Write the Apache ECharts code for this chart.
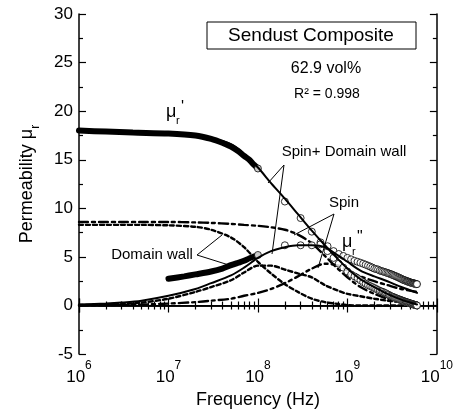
<!DOCTYPE html>
<html>
<head>
<meta charset="utf-8">
<script src="https://cdn.jsdelivr.net/npm/echarts@6/dist/echarts.min.js"></script>
<style>html,body{margin:0;padding:0;background:#fff}#main{width:456px;height:414px}</style>
</head>
<body>
<div id="main"></div>
<script>
// frequencies in MHz
var fitFreq = [1,2,3,5,10,20,30,50,70,100,140,200,280,400,560,800,1000,1400,2000,2800,4000,6000];
var mu1Fit  = [18.0,17.95,17.9,17.85,17.75,17.5,17.2,16.6,15.6,14.2,12.6,11.0,9.4,7.7,6.2,4.7,3.8,2.7,1.9,1.2,0.6,0.1];
var mu2Fit  = [0.1,0.2,0.3,0.5,1.0,1.7,2.3,3.1,3.9,4.9,5.6,6.0,6.2,6.2,6.0,5.1,4.5,3.6,3.0,2.5,1.9,1.3];
var dwReal  = [8.3,8.3,8.3,8.3,8.25,8.1,7.8,7.0,6.0,4.5,3.3,2.2,1.4,0.7,0.35,0.15,0.05,0,0,0,0,0];
var dwImag  = [0.05,0.1,0.15,0.3,0.7,1.4,1.9,2.6,3.4,4.1,4.1,3.7,3.3,2.9,2.1,1.5,1.2,0.95,0.7,0.5,0.35,0.2];
var spinReal = [8.6,8.6,8.6,8.6,8.6,8.55,8.5,8.4,8.3,8.2,8.05,7.8,7.3,6.4,5.1,3.7,2.9,1.9,1.2,0.7,0.4,0.2];
var spinImag = [0.02,0.04,0.06,0.1,0.2,0.35,0.5,0.7,1.0,1.3,1.7,2.3,3.0,3.8,4.3,4.1,3.6,3.0,2.5,2.1,1.7,1.4];

// low-frequency measurement (dense, drawn as a band)
var loFreq1 = [1,2,4,10,20,30,40,50,60,70,80,90,100];
var mu1Lo   = [18.0,17.9,17.8,17.7,17.5,17.15,16.75,16.35,15.9,15.4,15.0,14.5,14.1];
var loFreq2 = [10,15,20,30,40,50,60,70,80,90,100];
var mu2Lo   = [2.75,3.0,3.2,3.5,3.8,4.15,4.4,4.6,4.85,5.05,5.2];

// high-frequency measurement (linear sweep, circles)
var hiFreq = [100,200,300,400,500,600,700,800,900,1000,
  1100,1200,1300,1400,1500,1600,1700,1800,1900,2000,
  2100,2200,2300,2400,2500,2600,2700,2800,2900,3000,
  3100,3200,3300,3400,3500,3600,3700,3800,3900,4000,
  4100,4200,4300,4400,4500,4600,4700,4800,4900,5000,
  5100,5200,5300,5400,5500,5600,5700,5800,5900,6000];
var mu1Hi = [14.1,10.7,9.0,7.6,6.5,5.6,4.9,4.3,3.9,3.5,
  3.2,3.0,2.8,2.6,2.4,2.25,2.1,2.0,1.9,1.8,
  1.7,1.6,1.5,1.45,1.4,1.3,1.25,1.15,1.1,1.0,
  0.95,0.9,0.85,0.8,0.75,0.7,0.66,0.62,0.58,0.55,
  0.5,0.47,0.44,0.4,0.37,0.34,0.31,0.28,0.25,0.22,
  0.2,0.18,0.15,0.13,0.1,0.08,0.06,0.04,0.02,0.0];
var mu2Hi = [5.2,6.2,6.2,6.2,6.3,6.1,5.6,5.3,5.1,4.9,
  4.75,4.6,4.5,4.4,4.3,4.2,4.1,4.0,3.9,3.8,
  3.75,3.7,3.6,3.55,3.5,3.45,3.4,3.35,3.3,3.25,
  3.2,3.15,3.1,3.05,3.0,2.95,2.9,2.85,2.8,2.75,
  2.7,2.65,2.6,2.6,2.55,2.5,2.5,2.45,2.4,2.4,
  2.35,2.35,2.3,2.3,2.3,2.25,2.25,2.2,2.2,2.2];

function pts(f, v){
  return f.map(function(x, i){ return [x * 1e6, v[i]]; });
}

var font = 'Liberation Sans';
var myChart = echarts.init(document.getElementById('main'));

function logAxis(pos, labels){
  return {
    type: 'log', logBase: 10, min: 1e6, max: 1e10, position: pos,
    axisLine: {show: true, lineStyle: {color: '#000', width: 1.5}},
    axisTick: {show: true, inside: true, length: 7, lineStyle: {color: '#000', width: 1.2}},
    minorTick: {show: true, splitNumber: 9, length: 4, lineStyle: {color: '#000', width: 1.2}},
    axisLabel: labels ? {
      show: true, margin: 6,
      formatter: function(v){ return '{b|10}{s|' + Math.round(Math.log10(v)) + '}'; },
      rich: {
        b: {fontFamily: font, fontSize: 17, color: '#000', lineHeight: 26, verticalAlign: 'bottom'},
        s: {fontFamily: font, fontSize: 12, color: '#000', lineHeight: 12, verticalAlign: 'top'}
      }
    } : {show: false},
    splitLine: {show: false},
    minorSplitLine: {show: false}
  };
}

function valAxis(pos, labels){
  return {
    type: 'value', min: -5, max: 30, interval: 5, position: pos,
    axisLine: {show: true, lineStyle: {color: '#000', width: 1.5}},
    axisTick: {show: true, inside: true, length: 7, lineStyle: {color: '#000', width: 1.2}},
    minorTick: {show: true, splitNumber: 2, length: 4, lineStyle: {color: '#000', width: 1.2}},
    axisLabel: {show: labels, margin: 6, fontFamily: font, fontSize: 17, color: '#000'},
    splitLine: {show: false}
  };
}

var yLeft = valAxis('left', true);
yLeft.name = '{a|Permeability μ}{s|r}';
yLeft.nameLocation = 'middle';
yLeft.nameGap = 37;
yLeft.nameTextStyle = {
  rich: {
    a: {fontFamily: font, fontSize: 18, color: '#000', lineHeight: 24, verticalAlign: 'top'},
    s: {fontFamily: font, fontSize: 12, color: '#000', lineHeight: 12, verticalAlign: 'bottom'}
  }
};

var xBottom = logAxis('bottom', true);
xBottom.name = 'Frequency (Hz)';
xBottom.nameLocation = 'middle';
xBottom.nameGap = 32;
xBottom.nameTextStyle = {fontFamily: font, fontSize: 18, color: '#000'};

var dash = [4, 3];
var dashDot = [9, 4, 3, 4];

function line(data, style, width, z){
  return {type: 'line', xAxisIndex: 0, yAxisIndex: 0, data: data, symbol: 'none', smooth: 0.3,
    lineStyle: {color: '#000', width: width, type: style, cap: 'round'}, z: z || 2, silent: true};
}

var option = {
  animation: false,
  backgroundColor: '#fff',
  grid: {left: 79, top: 14, right: 19, bottom: 54},
  xAxis: [xBottom, logAxis('top', false)],
  yAxis: [yLeft, valAxis('right', false)],
  series: [
    line([[1e6, 0], [1e10, 0]], 'solid', 1.2),
    line(pts(fitFreq, dwReal), dash, 2.4),
    line(pts(fitFreq, dwImag), dash, 2.4),
    line(pts(fitFreq, spinReal), dashDot, 2.4),
    line(pts(fitFreq, spinImag), dashDot, 2.4),
    line(pts(loFreq1, mu1Lo), 'solid', 6, 3),
    line(pts(loFreq2, mu2Lo), 'solid', 6, 3),
    {type: 'scatter', data: pts(hiFreq, mu1Hi), symbol: 'circle', symbolSize: 7, z: 3, silent: true,
      itemStyle: {color: '#fff', borderColor: '#000', borderWidth: 1}},
    {type: 'scatter', data: pts(hiFreq, mu2Hi), symbol: 'circle', symbolSize: 7, z: 3, silent: true,
      itemStyle: {color: '#fff', borderColor: '#000', borderWidth: 1}},
    line(pts(fitFreq, mu1Fit), 'solid', 2, 4),
    line(pts(fitFreq, mu2Fit), 'solid', 2, 4)
  ],
  graphic: [
    {type: 'rect', shape: {x: 207, y: 22, width: 209, height: 27}, style: {fill: '#fff', stroke: '#000', lineWidth: 1}, z: 10},
    {type: 'text', x: 311, y: 36, z: 11, style: {text: 'Sendust Composite', font: '19px "Liberation Sans"', fill: '#000', textAlign: 'center', textVerticalAlign: 'middle'}},
    {type: 'text', x: 326, y: 69, z: 11, style: {text: '62.9 vol%', font: '16px "Liberation Sans"', fill: '#000', textAlign: 'center', textVerticalAlign: 'middle'}},
    {type: 'text', x: 327, y: 94, z: 11, style: {text: 'R² = 0.998', font: '14px "Liberation Sans"', fill: '#000', textAlign: 'center', textVerticalAlign: 'middle'}},
    {type: 'text', x: 344, y: 152, z: 11, style: {text: 'Spin+ Domain wall', font: '15px "Liberation Sans"', fill: '#000', textAlign: 'center', textVerticalAlign: 'middle'}},
    {type: 'text', x: 344, y: 203, z: 11, style: {text: 'Spin', font: '15px "Liberation Sans"', fill: '#000', textAlign: 'center', textVerticalAlign: 'middle'}},
    {type: 'text', x: 152, y: 255, z: 11, style: {text: 'Domain wall', font: '15px "Liberation Sans"', fill: '#000', textAlign: 'center', textVerticalAlign: 'middle'}},
    {type: 'text', x: 166, y: 112, z: 11, style: {text: 'μ', font: '18px "Liberation Sans"', fill: '#000', textVerticalAlign: 'middle'}},
    {type: 'text', x: 176, y: 121, z: 11, style: {text: 'r', font: '11px "Liberation Sans"', fill: '#000', textVerticalAlign: 'middle'}},
    {type: 'text', x: 181, y: 108, z: 11, style: {text: "'", font: '16px "Liberation Sans"', fill: '#000', textVerticalAlign: 'middle'}},
    {type: 'text', x: 342, y: 242, z: 11, style: {text: 'μ', font: '18px "Liberation Sans"', fill: '#000', textVerticalAlign: 'middle'}},
    {type: 'text', x: 352, y: 252, z: 11, style: {text: 'r', font: '11px "Liberation Sans"', fill: '#000', textVerticalAlign: 'middle'}},
    {type: 'text', x: 357, y: 238, z: 11, style: {text: '"', font: '16px "Liberation Sans"', fill: '#000', textVerticalAlign: 'middle'}},
    {type: 'polyline', z: 11, shape: {points: [[268, 183], [284, 165], [272, 254]]}, style: {stroke: '#000', lineWidth: 1, fill: null}},
    {type: 'polyline', z: 11, shape: {points: [[294, 235], [334, 214], [318, 268]]}, style: {stroke: '#000', lineWidth: 1, fill: null}},
    {type: 'polyline', z: 11, shape: {points: [[222, 235], [197, 255], [232, 266]]}, style: {stroke: '#000', lineWidth: 1, fill: null}}
  ]
};

myChart.setOption(option);
</script>
</body>
</html>
